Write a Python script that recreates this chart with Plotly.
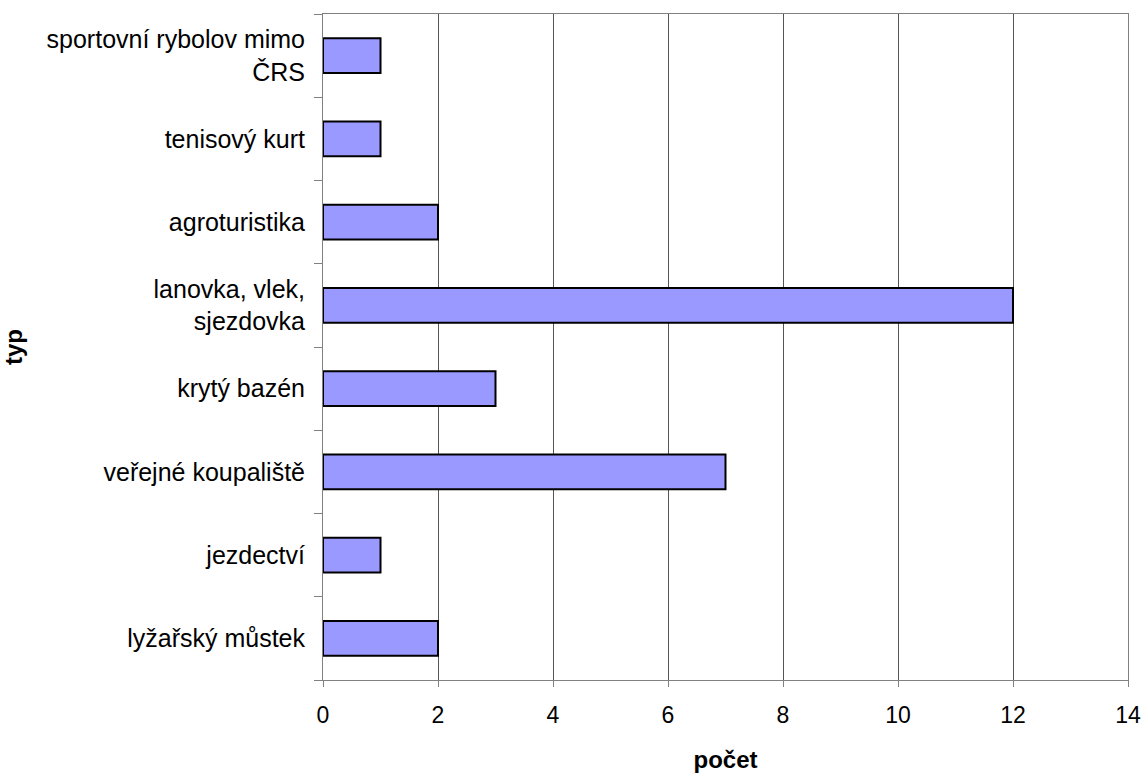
import plotly.graph_objects as go

categories = ["lyžařský můstek", "jezdectví", "veřejné koupaliště", "krytý bazén",
              "lanovka, vlek,<br>sjezdovka", "agroturistika", "tenisový kurt",
              "sportovní rybolov mimo<br>ČRS"]
values = [2, 1, 7, 3, 12, 2, 1, 1]
x_ticks = [0, 2, 4, 6, 8, 10, 12, 14]

fig = go.Figure(go.Bar(
    y=categories, x=values, orientation="h",
    marker=dict(color="#9999FF", line=dict(color="black", width=2)),
))
font = dict(family="Liberation Sans, Arial, sans-serif", size=25, color="black")
fig.update_layout(
    width=1144, height=776,
    margin=dict(l=323, r=16, t=14, b=96),
    paper_bgcolor="white", plot_bgcolor="white",
    bargap=0.58, showlegend=False, font=font,
    xaxis=dict(range=[0, 14], tickvals=x_ticks, showgrid=True, gridcolor="#555555", gridwidth=1,
               showline=True, linecolor="#808080", mirror=True, ticks="outside", ticklen=6,
               tickcolor="#808080", zeroline=False, automargin=False, ticklabelstandoff=8,
               title=dict(text="<b>počet</b>", standoff=24, font=dict(size=24)),
               tickfont=dict(size=23)),
    yaxis=dict(type="category", showline=True, linecolor="#808080", mirror=True,
               ticks="outside", ticklen=8, tickcolor="#808080", tickson="boundaries",
               showgrid=False, ticklabelstandoff=12, automargin=False,
               title=dict(text="<b>typ</b>", standoff=23, font=dict(size=24))),
)
fig.write_html("out.html", config={"displayModeBar": False},
               post_script="document.body.style.margin='0';document.body.style.overflow='hidden';")
